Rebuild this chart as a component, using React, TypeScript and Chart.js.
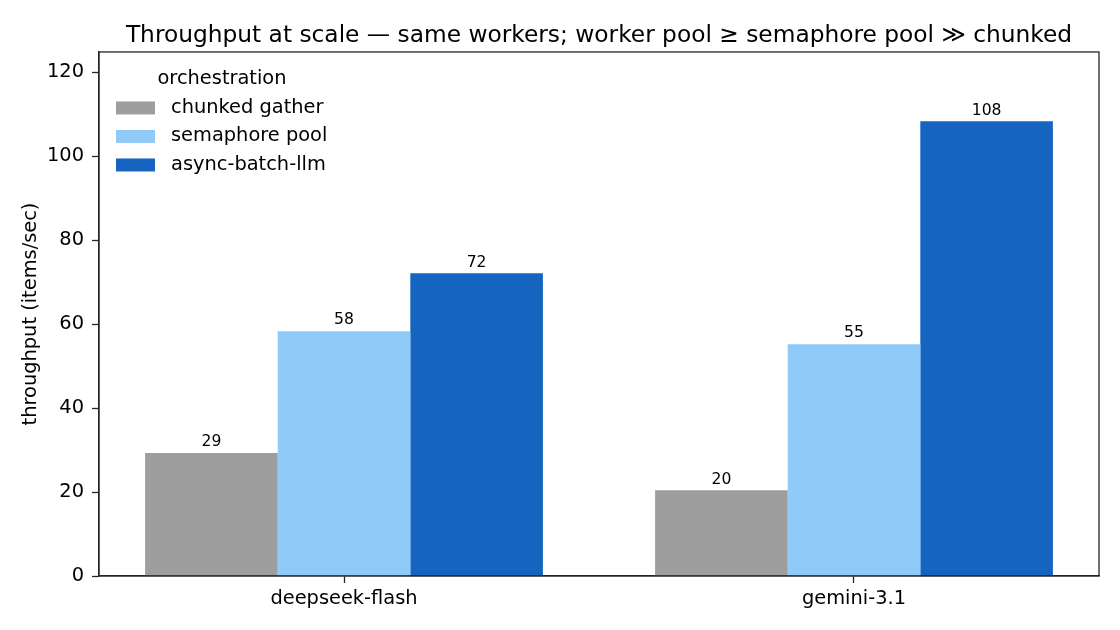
import React, { useEffect, useRef } from "react";
import { Chart, registerables } from "chart.js";

Chart.register(...registerables);

const categories = ["deepseek-flash", "gemini-3.1"];
const seriesNames = ["chunked gather", "semaphore pool", "async-batch-llm"];
const chunkedGather = [29.3, 20.4];
const semaphorePool = [58.3, 55.2];
const asyncBatchLlm = [72.1, 108.3];
const seriesColors = ["#9e9e9e", "#90caf9", "#1565c0"];
const yTicks = [0, 20, 40, 60, 80, 100, 120];

const FONT = "'DejaVu Sans', sans-serif";
const AXIS_COLOR = "#262626";
const TICK_SIZE = 19.4;

const frameAndLabels = {
  id: "frameAndLabels",
  afterDatasetsDraw(chart: any) {
    const ctx = chart.ctx;
    ctx.save();
    ctx.fillStyle = "#000";
    ctx.font = `15.6px ${FONT}`;
    ctx.textAlign = "center";
    ctx.textBaseline = "bottom";
    chart.data.datasets.forEach((ds: any, di: number) => {
      const meta = chart.getDatasetMeta(di);
      meta.data.forEach((el: any, i: number) => {
        const v = ds.data[i].y;
        ctx.fillText(String(Math.round(v)), el.x, el.y - 3);
      });
    });
    ctx.restore();
  },
  afterDraw(chart: any) {
    const ctx = chart.ctx;
    const a = chart.chartArea;
    ctx.save();
    ctx.strokeStyle = AXIS_COLOR;
    ctx.lineWidth = 1.3;
    ctx.strokeRect(a.left, a.top, a.right - a.left, a.bottom - a.top);
    // legend
    ctx.fillStyle = "#000";
    ctx.font = `${TICK_SIZE}px ${FONT}`;
    ctx.textAlign = "center";
    ctx.textBaseline = "middle";
    ctx.fillText("orchestration", a.left + 123, a.top + 27.5);
    ctx.textAlign = "left";
    seriesNames.forEach((name, i) => {
      const cy = a.top + 56 + i * 28.5;
      ctx.fillStyle = seriesColors[i];
      ctx.fillRect(a.left + 17, cy - 6.5, 39, 13);
      ctx.fillStyle = "#000";
      ctx.fillText(name, a.left + 72, cy);
    });
    ctx.restore();
  },
};

export default function App() {
  const ref = useRef<HTMLCanvasElement | null>(null);
  useEffect(() => {
    document.body.style.margin = "0";
    const seriesValues = [chunkedGather, semaphorePool, asyncBatchLlm];
    const chart = new Chart(ref.current as HTMLCanvasElement, {
      type: "bar",
      data: {
        datasets: seriesNames.map((name, si) => ({
          label: name,
          data: seriesValues[si].map((v, i) => ({ x: i, y: v })),
          backgroundColor: seriesColors[si],
          borderWidth: 0,
          categoryPercentage: 0.78,
          barPercentage: 1.0,
        })),
      },
      options: {
        responsive: false,
        animation: false,
        devicePixelRatio: 1,
        layout: { padding: { left: 0, right: 21, top: 0, bottom: 0 } },
        plugins: {
          legend: { display: false },
          tooltip: { enabled: false },
          title: {
            display: true,
            fullSize: false,
            text: "Throughput at scale — same workers; worker pool ≥ semaphore pool ≫ chunked",
            color: "#000",
            font: { family: FONT, size: 23.3, weight: "normal" },
            padding: { top: 22, bottom: 2 },
          },
        },
        scales: {
          x: {
            type: "linear",
            min: -0.4804,
            max: 1.4804,
            offset: false,
            afterBuildTicks(scale: any) {
              scale.ticks = categories.map((_, i) => ({ value: i }));
            },
            afterFit(scale: any) {
              scale.height = 54;
            },
            ticks: {
              color: "#000",
              font: { family: FONT, size: TICK_SIZE },
              padding: 4,
              maxRotation: 0,
              autoSkip: false,
              callback: (v: any) => categories[Math.round(Number(v))] ?? "",
            },
            grid: {
              offset: false,
              drawOnChartArea: false,
              drawTicks: true,
              tickLength: 7,
              tickColor: AXIS_COLOR,
              tickWidth: 1.3,
            },
            border: { display: true, color: AXIS_COLOR, width: 1.3 },
          },
          y: {
            min: 0,
            max: 124.8,
            afterBuildTicks(scale: any) {
              scale.ticks = yTicks.map((v) => ({ value: v }));
            },
            afterFit(scale: any) {
              scale.width = 99;
            },
            ticks: {
              color: "#000",
              font: { family: FONT, size: TICK_SIZE },
              padding: 8,
              includeBounds: false,
            },
            grid: {
              drawOnChartArea: false,
              drawTicks: true,
              tickLength: 7,
              tickColor: AXIS_COLOR,
              tickWidth: 1.3,
            },
            border: { display: true, color: AXIS_COLOR, width: 1.3 },
            title: {
              display: true,
              text: "throughput (items/sec)",
              color: "#000",
              font: { family: FONT, size: TICK_SIZE },
              padding: { top: 19, bottom: 0 },
            },
          },
        },
      },
      plugins: [frameAndLabels],
    } as any);
    return () => chart.destroy();
  }, []);
  return (
    <div style={{ width: 1120, height: 630, background: "#fff" }}>
      <canvas ref={ref} width={1120} height={630} style={{ display: "block" }} />
    </div>
  );
}
